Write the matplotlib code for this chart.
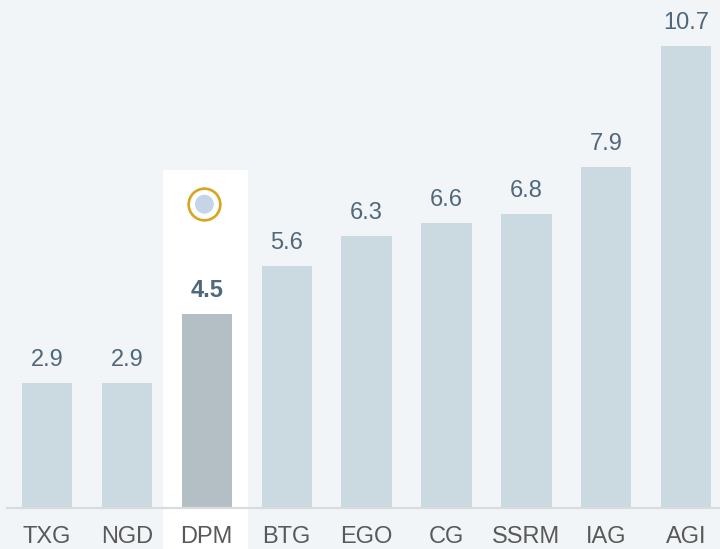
import matplotlib
matplotlib.use("Agg")
import matplotlib.pyplot as plt
from matplotlib.patches import Rectangle

categories = ["TXG", "NGD", "DPM", "BTG", "EGO", "CG", "SSRM", "IAG", "AGI"]
values = [2.9, 2.9, 4.5, 5.6, 6.3, 6.6, 6.8, 7.9, 10.7]
highlight = "DPM"

BG = "#F1F5F8"
BAR = "#CBD9E1"
BAR_HL = "#B3BFC5"
VAL_COLOR = "#51677A"
TICK_COLOR = "#595959"
GOLD = "#D9A521"
DOT = "#C6D4E8"
FONT = ["Liberation Sans", "DejaVu Sans"]

fig = plt.figure(figsize=(7.2, 5.49), dpi=100)
fig.patch.set_facecolor(BG)
ax = fig.add_axes([0, 0, 1, 1])
ax.set_facecolor(BG)
ax.set_xlim(-0.588, 8.423)
ax.set_ylim(-0.949, 11.76)
ax.axis("off")

x = list(range(len(categories)))
hi = categories.index(highlight)

# highlight column
hl_top = 7.82
ax.add_patch(Rectangle((hi - 0.55, -0.949), 1.07, hl_top + 0.949,
                       facecolor="white", edgecolor="none", zorder=0))

colors = [BAR_HL if c == highlight else BAR for c in categories]
ax.bar(x, values, width=0.63, color=colors, zorder=2)

ax.axhline(0, xmin=0.0097, xmax=1, color="#D8DCDF", lw=1.6, zorder=3)

for xi, v, c in zip(x, values, categories):
    ax.annotate(f"{v:.1f}", (xi, v), xytext=(0, 12.2), textcoords="offset points",
                ha="center", va="baseline", fontsize=17, family=FONT,
                color=VAL_COLOR, fontweight="bold" if c == highlight else "normal",
                zorder=4)
    ax.annotate(c, (xi, 0), xytext=(0, -25.5), textcoords="offset points",
                ha="center", va="baseline", fontsize=17, family=FONT,
                color=TICK_COLOR, zorder=4)

# marker above highlighted bar
cy = hl_top - 34 / 43.2
ax.scatter([hi - 0.03], [cy], s=520, facecolor="white", edgecolor=GOLD,
           linewidth=1.9, zorder=5)
ax.scatter([hi - 0.03], [cy], s=185, facecolor=DOT, edgecolor="none", zorder=6)

fig.savefig("out.png", dpi=100, facecolor=BG)
